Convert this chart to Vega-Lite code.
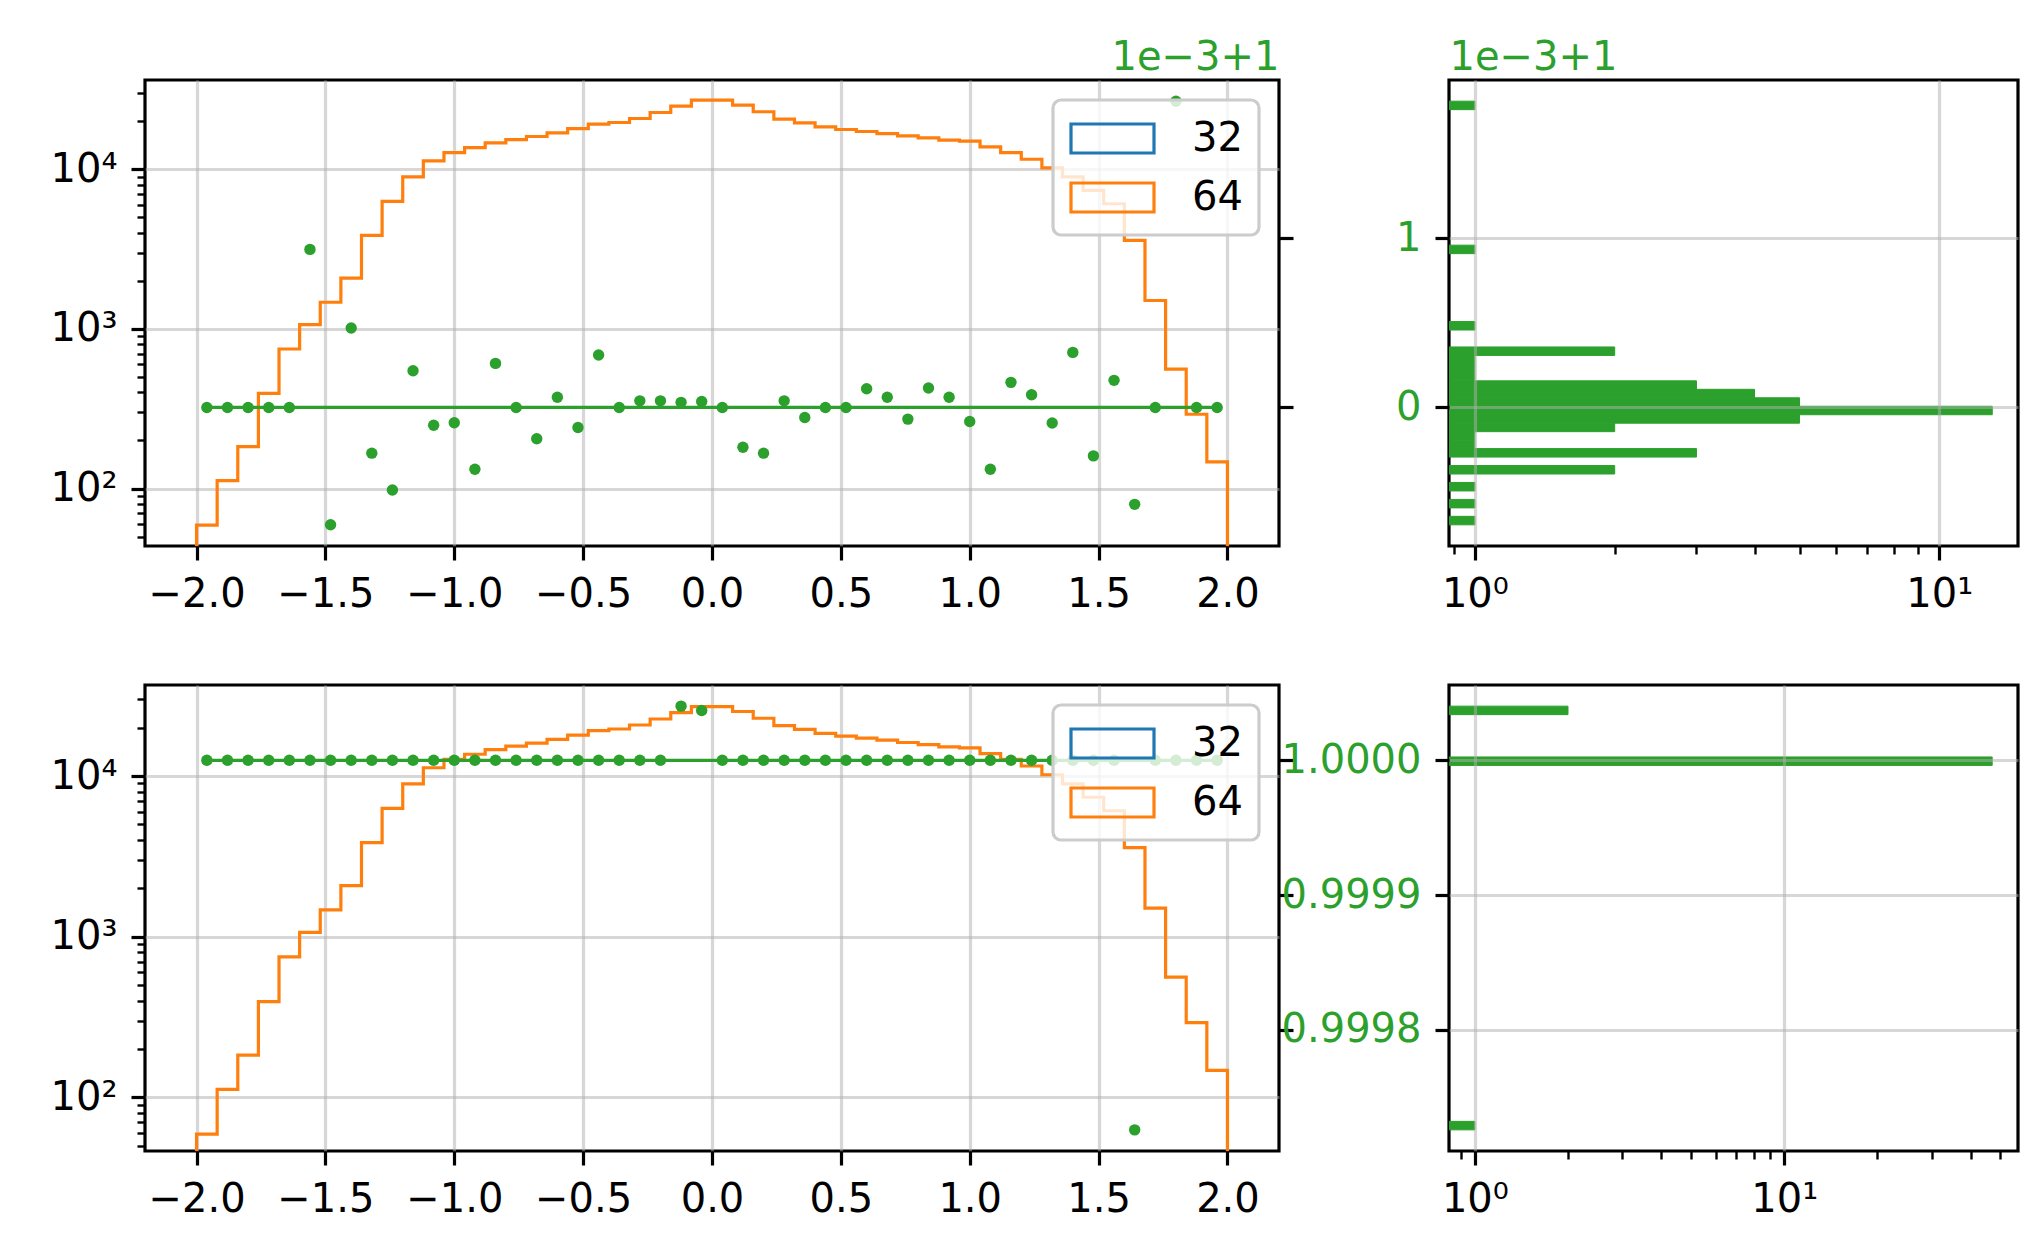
{
  "$schema": "https://vega.github.io/schema/vega-lite/v6.json",
  "background": "white",
  "padding": {"left": 0, "top": 35, "right": 5, "bottom": 5},
  "config": {
    "font": "DejaVu Sans",
    "view": {"stroke": "black", "strokeWidth": 3.2},
    "axis": {
      "domain": false, "tickColor": "black", "tickWidth": 3.2, "tickSize": 14,
      "labelFont": "DejaVu Sans", "labelFontSize": 40, "labelColor": "black", "labelPadding": 14,
      "labelFlush": false, "labelOverlap": false, "labelBound": false, "labelAngle": 0,
      "gridColor": "#b0b0b0", "gridOpacity": 0.5, "gridWidth": 3.2,
      "titleFont": "DejaVu Sans", "titleFontSize": 40, "titleFontWeight": "normal", "titleColor": "#2ca02c"
    },
    "legend": {
      "orient": "top-right", "offset": 20, "padding": 16,
      "fillColor": "rgba(255,255,255,0.8)", "strokeColor": "#cccccc", "strokeWidth": 3.2, "cornerRadius": 8,
      "labelFont": "DejaVu Sans", "labelFontSize": 40, "labelColor": "black",
      "symbolType": "M-1,-0.707H3.049V0.707H-1Z", "symbolSize": 1681, "symbolStrokeWidth": 3.2,
      "symbolFillColor": "transparent", "labelOffset": 78, "rowPadding": 15
    }
  },
  "datasets": {
    "hist": [
      {"i": 0, "x": -2.0, "c": 1, "b": "64"},
      {"i": 1, "x": -2.0, "c": 59, "b": "64"},
      {"i": 2, "x": -1.92, "c": 112, "b": "64"},
      {"i": 3, "x": -1.84, "c": 183, "b": "64"},
      {"i": 4, "x": -1.76, "c": 394, "b": "64"},
      {"i": 5, "x": -1.68, "c": 748, "b": "64"},
      {"i": 6, "x": -1.6, "c": 1064, "b": "64"},
      {"i": 7, "x": -1.52, "c": 1468, "b": "64"},
      {"i": 8, "x": -1.44, "c": 2078, "b": "64"},
      {"i": 9, "x": -1.36, "c": 3853, "b": "64"},
      {"i": 10, "x": -1.28, "c": 6296, "b": "64"},
      {"i": 11, "x": -1.2, "c": 8950, "b": "64"},
      {"i": 12, "x": -1.12, "c": 11270, "b": "64"},
      {"i": 13, "x": -1.04, "c": 12710, "b": "64"},
      {"i": 14, "x": -0.96, "c": 13670, "b": "64"},
      {"i": 15, "x": -0.88, "c": 14620, "b": "64"},
      {"i": 16, "x": -0.8, "c": 15340, "b": "64"},
      {"i": 17, "x": -0.72, "c": 16030, "b": "64"},
      {"i": 18, "x": -0.64, "c": 16900, "b": "64"},
      {"i": 19, "x": -0.56, "c": 17990, "b": "64"},
      {"i": 20, "x": -0.48, "c": 19160, "b": "64"},
      {"i": 21, "x": -0.4, "c": 19630, "b": "64"},
      {"i": 22, "x": -0.32, "c": 20790, "b": "64"},
      {"i": 23, "x": -0.24, "c": 22670, "b": "64"},
      {"i": 24, "x": -0.16, "c": 24850, "b": "64"},
      {"i": 25, "x": -0.08, "c": 27100, "b": "64"},
      {"i": 26, "x": 0.0, "c": 27100, "b": "64"},
      {"i": 27, "x": 0.08, "c": 25230, "b": "64"},
      {"i": 28, "x": 0.16, "c": 22910, "b": "64"},
      {"i": 29, "x": 0.24, "c": 20610, "b": "64"},
      {"i": 30, "x": 0.32, "c": 19540, "b": "64"},
      {"i": 31, "x": 0.4, "c": 18450, "b": "64"},
      {"i": 32, "x": 0.48, "c": 17740, "b": "64"},
      {"i": 33, "x": 0.56, "c": 17230, "b": "64"},
      {"i": 34, "x": 0.64, "c": 16730, "b": "64"},
      {"i": 35, "x": 0.72, "c": 16180, "b": "64"},
      {"i": 36, "x": 0.8, "c": 15710, "b": "64"},
      {"i": 37, "x": 0.88, "c": 15200, "b": "64"},
      {"i": 38, "x": 0.96, "c": 15000, "b": "64"},
      {"i": 39, "x": 1.04, "c": 13810, "b": "64"},
      {"i": 40, "x": 1.12, "c": 12710, "b": "64"},
      {"i": 41, "x": 1.2, "c": 11550, "b": "64"},
      {"i": 42, "x": 1.28, "c": 10190, "b": "64"},
      {"i": 43, "x": 1.36, "c": 8950, "b": "64"},
      {"i": 44, "x": 1.44, "c": 7380, "b": "64"},
      {"i": 45, "x": 1.52, "c": 6080, "b": "64"},
      {"i": 46, "x": 1.6, "c": 3580, "b": "64"},
      {"i": 47, "x": 1.68, "c": 1506, "b": "64"},
      {"i": 48, "x": 1.76, "c": 560, "b": "64"},
      {"i": 49, "x": 1.84, "c": 292, "b": "64"},
      {"i": 50, "x": 1.92, "c": 147, "b": "64"},
      {"i": 51, "x": 2.0, "c": 147, "b": "64"},
      {"i": 52, "x": 2.0, "c": 1, "b": "64"}
    ],
    "gLine": [{"x": -1.96, "x2": 1.96, "g": 1}],
    "gTop": [
      {"x": -1.96, "g": 1}, {"x": -1.88, "g": 1}, {"x": -1.8, "g": 1}, {"x": -1.72, "g": 1}, {"x": -1.64, "g": 1},
      {"x": -1.56, "g": 1.000933}, {"x": -1.48, "g": 0.999307}, {"x": -1.4, "g": 1.000469}, {"x": -1.32, "g": 0.99973},
      {"x": -1.24, "g": 0.999513}, {"x": -1.16, "g": 1.000217}, {"x": -1.08, "g": 0.999895}, {"x": -1.0, "g": 0.99991},
      {"x": -0.92, "g": 0.999635}, {"x": -0.84, "g": 1.00026}, {"x": -0.76, "g": 1}, {"x": -0.68, "g": 0.999815},
      {"x": -0.6, "g": 1.00006}, {"x": -0.52, "g": 0.999882}, {"x": -0.44, "g": 1.00031}, {"x": -0.36, "g": 1},
      {"x": -0.28, "g": 1.000039}, {"x": -0.2, "g": 1.000039}, {"x": -0.12, "g": 1.00003}, {"x": -0.04, "g": 1.000035},
      {"x": 0.04, "g": 1}, {"x": 0.12, "g": 0.999765}, {"x": 0.2, "g": 0.99973}, {"x": 0.28, "g": 1.000039},
      {"x": 0.36, "g": 0.999941}, {"x": 0.44, "g": 1}, {"x": 0.52, "g": 1}, {"x": 0.6, "g": 1.00011},
      {"x": 0.68, "g": 1.00006}, {"x": 0.76, "g": 0.999931}, {"x": 0.84, "g": 1.000115}, {"x": 0.92, "g": 1.00006},
      {"x": 1.0, "g": 0.999917}, {"x": 1.08, "g": 0.999635}, {"x": 1.16, "g": 1.000148}, {"x": 1.24, "g": 1.000075},
      {"x": 1.32, "g": 0.999908}, {"x": 1.4, "g": 1.000325}, {"x": 1.48, "g": 0.999714}, {"x": 1.56, "g": 1.00016},
      {"x": 1.64, "g": 0.999428}, {"x": 1.72, "g": 1}, {"x": 1.8, "g": 1.001808}, {"x": 1.88, "g": 1}, {"x": 1.96, "g": 1}
    ],
    "gBot": [
      {"x": -1.96, "g": 1}, {"x": -1.88, "g": 1}, {"x": -1.8, "g": 1}, {"x": -1.72, "g": 1}, {"x": -1.64, "g": 1},
      {"x": -1.56, "g": 1}, {"x": -1.48, "g": 1}, {"x": -1.4, "g": 1}, {"x": -1.32, "g": 1},
      {"x": -1.24, "g": 1}, {"x": -1.16, "g": 1}, {"x": -1.08, "g": 1}, {"x": -1.0, "g": 1},
      {"x": -0.92, "g": 1}, {"x": -0.84, "g": 1}, {"x": -0.76, "g": 1}, {"x": -0.68, "g": 1},
      {"x": -0.6, "g": 1}, {"x": -0.52, "g": 1}, {"x": -0.44, "g": 1}, {"x": -0.36, "g": 1},
      {"x": -0.28, "g": 1}, {"x": -0.2, "g": 1}, {"x": -0.12, "g": 1.0000402}, {"x": -0.04, "g": 1.000037},
      {"x": 0.04, "g": 1}, {"x": 0.12, "g": 1}, {"x": 0.2, "g": 1}, {"x": 0.28, "g": 1},
      {"x": 0.36, "g": 1}, {"x": 0.44, "g": 1}, {"x": 0.52, "g": 1}, {"x": 0.6, "g": 1},
      {"x": 0.68, "g": 1}, {"x": 0.76, "g": 1}, {"x": 0.84, "g": 1}, {"x": 0.92, "g": 1},
      {"x": 1.0, "g": 1}, {"x": 1.08, "g": 1}, {"x": 1.16, "g": 1}, {"x": 1.24, "g": 1},
      {"x": 1.32, "g": 1}, {"x": 1.4, "g": 1}, {"x": 1.48, "g": 1}, {"x": 1.56, "g": 1},
      {"x": 1.64, "g": 0.9997257}, {"x": 1.72, "g": 1}, {"x": 1.8, "g": 1}, {"x": 1.88, "g": 1}, {"x": 1.96, "g": 1}
    ],
    "hTop": [
      {"lo": 0.999307, "hi": 0.999357, "n": 1},
      {"lo": 0.999407, "hi": 0.999457, "n": 1},
      {"lo": 0.999507, "hi": 0.999557, "n": 1},
      {"lo": 0.999607, "hi": 0.999657, "n": 2},
      {"lo": 0.999707, "hi": 0.999757, "n": 3},
      {"lo": 0.999757, "hi": 0.999807, "n": 1},
      {"lo": 0.999807, "hi": 0.999857, "n": 1},
      {"lo": 0.999857, "hi": 0.999907, "n": 2},
      {"lo": 0.999907, "hi": 0.999957, "n": 5},
      {"lo": 0.999957, "hi": 1.000007, "n": 13},
      {"lo": 1.000007, "hi": 1.000057, "n": 5},
      {"lo": 1.000057, "hi": 1.000107, "n": 4},
      {"lo": 1.000107, "hi": 1.000157, "n": 3},
      {"lo": 1.000157, "hi": 1.000207, "n": 1},
      {"lo": 1.000207, "hi": 1.000257, "n": 1},
      {"lo": 1.000257, "hi": 1.000307, "n": 1},
      {"lo": 1.000307, "hi": 1.000357, "n": 2},
      {"lo": 1.000457, "hi": 1.000507, "n": 1},
      {"lo": 1.000908, "hi": 1.000958, "n": 1},
      {"lo": 1.001758, "hi": 1.001808, "n": 1}
    ],
    "hBot": [
      {"lo": 0.9997257, "hi": 0.999732, "n": 1},
      {"lo": 0.9999962, "hi": 1.0000025, "n": 47},
      {"lo": 1.0000339, "hi": 1.0000402, "n": 2}
    ]
  },
  "columns": 2,
  "bounds": "flush",
  "spacing": {"row": 139, "column": 170},
  "resolve": {"scale": {"stroke": "independent"}, "legend": {"stroke": "independent"}},
  "concat": [
    {
      "width": 1134, "height": 466,
      "layer": [
        {
          "layer": [
            {
              "data": {"name": "hist"},
              "mark": {"type": "line", "interpolate": "step-after", "strokeWidth": 3.2, "clip": true},
              "encoding": {
                "x": {"field": "x", "type": "quantitative", "title": null, "scale": {"domain": [-2.2, 2.2], "nice": false, "zero": false},
                      "axis": {"orient": "bottom", "values": [-2, -1.5, -1, -0.5, 0, 0.5, 1, 1.5, 2], "format": ".1f", "grid": true}},
                "y": {"field": "c", "type": "quantitative", "title": null, "scale": {"type": "log", "domain": [43.65, 36224], "nice": false},
                      "axis": {"orient": "left", "values": [100, 1000, 10000], "labelExpr": "datum.value < 500 ? '10²' : datum.value < 5000 ? '10³' : '10⁴'", "grid": true, "minExtent": 143}},
                "stroke": {"field": "b", "type": "nominal", "scale": {"domain": ["32", "64"], "range": ["#1f77b4", "#ff7f0e"]}, "legend": {"title": null}},
                "order": {"field": "i"}
              }
            },
            {
              "data": {"name": "hist"},
              "mark": {"type": "line", "opacity": 0, "clip": true},
              "encoding": {
                "x": {"field": "x", "type": "quantitative", "title": null, "scale": {"domain": [-2.2, 2.2], "nice": false, "zero": false},
                      "axis": {"orient": "bottom", "values": [-2, -1.5, -1, -0.5, 0, 0.5, 1, 1.5, 2], "format": ".1f", "grid": true}},
                "y": {"field": "c", "type": "quantitative", "title": null, "scale": {"type": "log", "domain": [43.65, 36224], "nice": false},
                      "axis": {"orient": "left", "values": [50, 60, 70, 80, 90, 200, 300, 400, 500, 600, 700, 800, 900, 2000, 3000, 4000, 5000, 6000, 7000, 8000, 9000, 20000, 30000], "labels": false, "grid": false, "tickSize": 8, "tickWidth": 2.4}},
                "order": {"field": "i"}
              }
            }
          ],
          "resolve": {"axis": {"y": "independent"}}
        },
        {
          "layer": [
            {
              "data": {"name": "gLine"},
              "mark": {"type": "rule", "color": "#2ca02c", "strokeWidth": 3.2},
              "encoding": {
                "x": {"field": "x", "type": "quantitative", "title": null, "scale": {"domain": [-2.2, 2.2], "nice": false, "zero": false},
                      "axis": {"orient": "bottom", "values": [-2, -1.5, -1, -0.5, 0, 0.5, 1, 1.5, 2], "format": ".1f", "grid": true}},
                "x2": {"field": "x2"},
                "y": {"field": "g", "type": "quantitative", "title": null, "scale": {"domain": [0.999182, 1.001933], "nice": false, "zero": false},
                      "axis": {"orient": "right", "values": [1, 1.001], "labels": false, "grid": false, "title": "1e−3+1", "titleX": 0, "titleY": -11, "titleAlign": "right", "titleAngle": 0, "titleBaseline": "alphabetic"}}
              }
            },
            {
              "data": {"name": "gTop"},
              "mark": {"type": "circle", "color": "#2ca02c", "opacity": 1, "size": 130},
              "encoding": {
                "x": {"field": "x", "type": "quantitative", "title": null, "scale": {"domain": [-2.2, 2.2], "nice": false, "zero": false},
                      "axis": {"orient": "bottom", "values": [-2, -1.5, -1, -0.5, 0, 0.5, 1, 1.5, 2], "format": ".1f", "grid": true}},
                "y": {"field": "g", "type": "quantitative", "title": null, "scale": {"domain": [0.999182, 1.001933], "nice": false, "zero": false},
                      "axis": {"orient": "right", "values": [1, 1.001], "labels": false, "grid": false, "title": "1e−3+1", "titleX": 0, "titleY": -11, "titleAlign": "right", "titleAngle": 0, "titleBaseline": "alphabetic"}}
              }
            }
          ]
        }
      ],
      "resolve": {"scale": {"y": "independent"}}
    },
    {
      "width": 569, "height": 466,
      "layer": [
        {
          "data": {"name": "hTop"},
          "mark": {"type": "bar", "color": "#2ca02c", "stroke": "#2ca02c", "strokeWidth": 1, "clip": true},
          "encoding": {
            "y": {"field": "lo", "type": "quantitative", "title": null, "scale": {"domain": [0.999182, 1.001933], "nice": false, "zero": false},
                  "axis": {"orient": "left", "values": [1, 1.001], "labelExpr": "datum.value > 1.0005 ? '1' : '0'", "labelColor": "#2ca02c", "grid": true, "zindex": 1,
                           "title": "1e−3+1", "titleX": 0, "titleY": -11, "titleAlign": "left", "titleAngle": 0, "titleBaseline": "alphabetic"}},
            "y2": {"field": "hi"},
            "x": {"field": "n", "type": "quantitative", "title": null, "scale": {"type": "log", "domain": [0.8796, 14.77], "nice": false},
                  "axis": {"orient": "bottom", "values": [1, 10], "labelExpr": "datum.value < 5 ? '10⁰' : '10¹'", "grid": true, "zindex": 1}},
            "x2": {"datum": 0.5}
          }
        },
        {
          "data": {"name": "hTop"},
          "mark": {"type": "bar", "opacity": 0, "clip": true},
          "encoding": {
            "y": {"field": "lo", "type": "quantitative", "title": null, "scale": {"domain": [0.999182, 1.001933], "nice": false, "zero": false},
                  "axis": {"orient": "left", "values": [1, 1.001], "labelExpr": "datum.value > 1.0005 ? '1' : '0'", "labelColor": "#2ca02c", "grid": true, "zindex": 1,
                           "title": "1e−3+1", "titleX": 0, "titleY": -11, "titleAlign": "left", "titleAngle": 0, "titleBaseline": "alphabetic"}},
            "y2": {"field": "hi"},
            "x": {"field": "n", "type": "quantitative", "title": null, "scale": {"type": "log", "domain": [0.8796, 14.77], "nice": false},
                  "axis": {"orient": "bottom", "values": [0.9, 2, 3, 4, 5, 6, 7, 8, 9], "labels": false, "grid": false, "tickSize": 8, "tickWidth": 2.4}},
            "x2": {"datum": 0.5}
          }
        }
      ],
      "resolve": {"axis": {"x": "independent"}}
    },
    {
      "width": 1134, "height": 466,
      "layer": [
        {
          "layer": [
            {
              "data": {"name": "hist"},
              "mark": {"type": "line", "interpolate": "step-after", "strokeWidth": 3.2, "clip": true},
              "encoding": {
                "x": {"field": "x", "type": "quantitative", "title": null, "scale": {"domain": [-2.2, 2.2], "nice": false, "zero": false},
                      "axis": {"orient": "bottom", "values": [-2, -1.5, -1, -0.5, 0, 0.5, 1, 1.5, 2], "format": ".1f", "grid": true}},
                "y": {"field": "c", "type": "quantitative", "title": null, "scale": {"type": "log", "domain": [46.3, 36898], "nice": false},
                      "axis": {"orient": "left", "values": [100, 1000, 10000], "labelExpr": "datum.value < 500 ? '10²' : datum.value < 5000 ? '10³' : '10⁴'", "grid": true, "minExtent": 143}},
                "stroke": {"field": "b", "type": "nominal", "scale": {"domain": ["32", "64"], "range": ["#1f77b4", "#ff7f0e"]}, "legend": {"title": null}},
                "order": {"field": "i"}
              }
            },
            {
              "data": {"name": "hist"},
              "mark": {"type": "line", "opacity": 0, "clip": true},
              "encoding": {
                "x": {"field": "x", "type": "quantitative", "title": null, "scale": {"domain": [-2.2, 2.2], "nice": false, "zero": false},
                      "axis": {"orient": "bottom", "values": [-2, -1.5, -1, -0.5, 0, 0.5, 1, 1.5, 2], "format": ".1f", "grid": true}},
                "y": {"field": "c", "type": "quantitative", "title": null, "scale": {"type": "log", "domain": [46.3, 36898], "nice": false},
                      "axis": {"orient": "left", "values": [50, 60, 70, 80, 90, 200, 300, 400, 500, 600, 700, 800, 900, 2000, 3000, 4000, 5000, 6000, 7000, 8000, 9000, 20000, 30000], "labels": false, "grid": false, "tickSize": 8, "tickWidth": 2.4}},
                "order": {"field": "i"}
              }
            }
          ],
          "resolve": {"axis": {"y": "independent"}}
        },
        {
          "layer": [
            {
              "data": {"name": "gLine"},
              "mark": {"type": "rule", "color": "#2ca02c", "strokeWidth": 3.2},
              "encoding": {
                "x": {"field": "x", "type": "quantitative", "title": null, "scale": {"domain": [-2.2, 2.2], "nice": false, "zero": false},
                      "axis": {"orient": "bottom", "values": [-2, -1.5, -1, -0.5, 0, 0.5, 1, 1.5, 2], "format": ".1f", "grid": true}},
                "x2": {"field": "x2"},
                "y": {"field": "g", "type": "quantitative", "title": null, "scale": {"domain": [0.99971, 1.0000559], "nice": false, "zero": false},
                      "axis": {"orient": "right", "values": [0.9998, 0.9999, 1], "labels": false, "grid": false}}
              }
            },
            {
              "data": {"name": "gBot"},
              "mark": {"type": "circle", "color": "#2ca02c", "opacity": 1, "size": 130},
              "encoding": {
                "x": {"field": "x", "type": "quantitative", "title": null, "scale": {"domain": [-2.2, 2.2], "nice": false, "zero": false},
                      "axis": {"orient": "bottom", "values": [-2, -1.5, -1, -0.5, 0, 0.5, 1, 1.5, 2], "format": ".1f", "grid": true}},
                "y": {"field": "g", "type": "quantitative", "title": null, "scale": {"domain": [0.99971, 1.0000559], "nice": false, "zero": false},
                      "axis": {"orient": "right", "values": [0.9998, 0.9999, 1], "labels": false, "grid": false}}
              }
            }
          ]
        }
      ],
      "resolve": {"scale": {"y": "independent"}}
    },
    {
      "width": 569, "height": 466,
      "layer": [
        {
          "data": {"name": "hBot"},
          "mark": {"type": "bar", "color": "#2ca02c", "stroke": "#2ca02c", "strokeWidth": 1, "clip": true},
          "encoding": {
            "y": {"field": "lo", "type": "quantitative", "title": null, "scale": {"domain": [0.99971, 1.0000559], "nice": false, "zero": false},
                  "axis": {"orient": "left", "values": [0.9998, 0.9999, 1], "format": ".4f", "labelColor": "#2ca02c", "grid": true, "zindex": 1}},
            "y2": {"field": "hi"},
            "x": {"field": "n", "type": "quantitative", "title": null, "scale": {"type": "log", "domain": [0.8249, 56.96], "nice": false},
                  "axis": {"orient": "bottom", "values": [1, 10], "labelExpr": "datum.value < 5 ? '10⁰' : '10¹'", "grid": true, "zindex": 1}},
            "x2": {"datum": 0.5}
          }
        },
        {
          "data": {"name": "hBot"},
          "mark": {"type": "bar", "opacity": 0, "clip": true},
          "encoding": {
            "y": {"field": "lo", "type": "quantitative", "title": null, "scale": {"domain": [0.99971, 1.0000559], "nice": false, "zero": false},
                  "axis": {"orient": "left", "values": [0.9998, 0.9999, 1], "format": ".4f", "labelColor": "#2ca02c", "grid": true, "zindex": 1}},
            "y2": {"field": "hi"},
            "x": {"field": "n", "type": "quantitative", "title": null, "scale": {"type": "log", "domain": [0.8249, 56.96], "nice": false},
                  "axis": {"orient": "bottom", "values": [0.9, 2, 3, 4, 5, 6, 7, 8, 9, 20, 30, 40, 50], "labels": false, "grid": false, "tickSize": 8, "tickWidth": 2.4}},
            "x2": {"datum": 0.5}
          }
        }
      ],
      "resolve": {"axis": {"x": "independent"}}
    }
  ]
}
